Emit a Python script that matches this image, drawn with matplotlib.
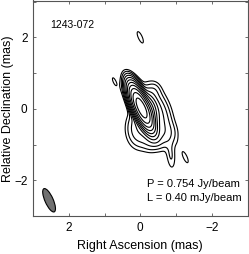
import numpy as np
import matplotlib
matplotlib.use("Agg")
import matplotlib.pyplot as plt
from matplotlib.patches import Ellipse

# ---- beam (mas, deg east of north) ----
beam_major = 0.71
beam_minor = 0.23
beam_pa = 24.0
beam_center = (2.55, -2.56)

# ---- model components (image plane, mas; amplitude in mJy/beam) ----
# sigma values of 0 mean "beam shaped"
comp_x = [-0.03, -0.20, -0.42, 0.02, -0.38, -0.86, -0.30, -0.70, 0.72, 0.00, -1.26]
comp_y = [0.03, -0.05, -0.20, -0.55, 0.50, -1.32, -0.85, -0.70, 0.76, 2.00, -1.36]
comp_amp = [650.0, 40.0, 5.0, 3.0, 0.8, 0.8, 1.5, 1.2, 0.43, 0.47, 0.46]
comp_sig_maj = [0.0, 0.22, 0.42, 0.30, 0.15, 0.26, 0.20, 0.20, 0.0, 0.0, 0.0]
comp_sig_min = [0.0, 0.13, 0.22, 0.20, 0.12, 0.08, 0.15, 0.20, 0.0, 0.0, 0.0]
comp_pa = [24.0, 10.0, 15.0, 0.0, 0.0, 5.0, 0.0, 0.0, 24.0, 24.0, 24.0]

peak = 0.754   # Jy/beam
lowest = 0.40  # mJy/beam
n_levels = 11
source_name = "1243-072"
xticks = [-2, 0, 2]
yticks = [-2, 0, 2]

# ---- image ----
x = np.linspace(-3, 3, 601)
y = np.linspace(-3, 3.05, 606)
X, Y = np.meshgrid(x, y)
img = np.zeros_like(X)
for cx, cy, a, smaj, smin, p in zip(comp_x, comp_y, comp_amp,
                                    comp_sig_maj, comp_sig_min, comp_pa):
    if smaj == 0:
        smaj = beam_major / 2.3548
        smin = beam_minor / 2.3548
    t = np.deg2rad(p)
    dx = X - cx
    dy = Y - cy
    u = dx * np.sin(t) + dy * np.cos(t)
    v = dx * np.cos(t) - dy * np.sin(t)
    img += a * np.exp(-0.5 * (u**2 / smaj**2 + v**2 / smin**2))

levels = [lowest * 2**k for k in range(n_levels)]

plt.rcParams['font.family'] = ['Liberation Sans', 'DejaVu Sans']
fig = plt.figure(figsize=(2.49, 2.54), dpi=100)
ax = fig.add_axes([33/249, 38/254, 214.5/249, 215.5/254])
ax.contour(X, Y, img, levels=levels, colors='black', linewidths=0.8)

ax.add_patch(Ellipse(beam_center, width=beam_minor, height=beam_major,
                     angle=-beam_pa, facecolor='#707070', edgecolor='black', lw=0.8))

ax.set_xlim(3, -3)
ax.set_ylim(-3, 3.03)
ax.set_xticks(xticks)
ax.set_yticks(yticks)
ax.set_xticks([-3, -1, 1, 3], minor=True)
ax.set_yticks([-3, -1, 1, 3], minor=True)
ax.tick_params(which='both', direction='in', length=2.5, width=0.6,
               top=True, right=True, color='#555555', labelsize=8.5, pad=4)
for s in ax.spines.values():
    s.set_color('#555555')
    s.set_linewidth(0.8)

ax.set_xlabel('Right Ascension (mas)', fontsize=9)
ax.set_ylabel('Relative Declination (mas)', fontsize=9)
ax.xaxis.set_label_coords(0.5, -0.139)
ax.yaxis.set_label_coords(-0.117, 0.5)
ax.xaxis.label.set_va('center')
ax.yaxis.label.set_va('center')

ax.text(2.51, 2.34, source_name, fontsize=7.5, va='center', ha='left')
ax.text(-0.19, -2.11, f'P = {peak:.3f} Jy/beam', fontsize=8, va='center', ha='left')
ax.text(-0.19, -2.50, f'L = {lowest:.2f} mJy/beam', fontsize=8, va='center', ha='left')

fig.savefig('out.png', dpi=100)
